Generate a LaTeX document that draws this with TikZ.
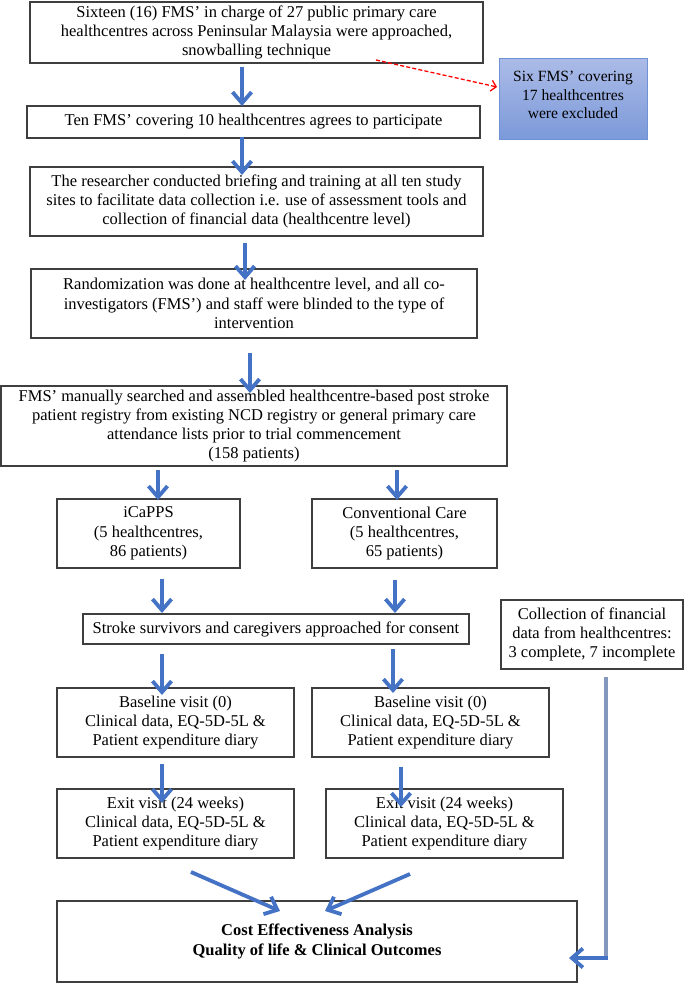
\documentclass[tikz,border=0pt]{standalone}
\usepackage{fontspec}
\setmainfont{Liberation Serif}
\usetikzlibrary{arrows.meta}
\definecolor{arrblue}{HTML}{4472C4}
\definecolor{boxgray}{HTML}{3F3F3F}
\definecolor{lineblue}{HTML}{8497BD}
\definecolor{extop}{HTML}{ABBBE7}
\definecolor{exbot}{HTML}{7B99D9}
\definecolor{exborder}{HTML}{6F91D6}
\newcommand\fs{\fontsize{16.5}{19.3}\selectfont}
\newcommand\fsx{\fontsize{15.6}{18.5}\selectfont}
\begin{document}
\begin{tikzpicture}[x=1pt,y=-1pt,
  box/.style={draw=boxgray, line width=1.1pt, align=center, inner sep=0pt, font=\fs},
  exbox/.style={draw=exborder, line width=1pt, top color=extop, bottom color=exbot},
  barrow/.style={draw=arrblue, line width=3.8pt, -{Straight Barb[length=11pt,width=19pt]}},
  redarrow/.style={draw=red, line width=1.3pt, dash pattern=on 4pt off 2.2pt, -{Straight Barb[length=5pt,width=11pt]}},
  grayline/.style={draw=lineblue, line width=3.6pt}]
\useasboundingbox (0,0) rectangle (685,984);
\fill[white] (0,0) rectangle (685,984);

% boxes
\node[box, minimum width=453, minimum height=61] (b1) at (256.5,32.5)
  {Sixteen (16) FMS’ in charge of 27 public primary care\\healthcentres across Peninsular Malaysia were approached,\\snowballing technique};
\node[box, minimum width=453, minimum height=32] (b2) at (253.5,122)
  {Ten FMS’ covering 10 healthcentres agrees to participate};
\node[exbox, minimum width=148, minimum height=81] (ex) at (573,99.5) {};
\node[align=center, inner sep=0pt, font=\fsx] (ext) at (573,95)
  {Six FMS’ covering\\17 healthcentres\\were excluded};
\node[box, minimum width=453, minimum height=69] (b3) at (256.5,201.5)
  {The researcher conducted briefing and training at all ten study\\sites to facilitate data collection i.e. use of assessment tools and\\collection of financial data (healthcentre level)};
\node[box, minimum width=446, minimum height=69] (b4) at (254,303.5)
  {Randomization was done at healthcentre level, and all co-\\investigators (FMS’) and staff were blinded to the type of\\intervention};
\node[box, minimum width=506, minimum height=80] (b5) at (254,426)
  {FMS’ manually searched and assembled healthcentre-based post stroke\\patient registry from existing NCD registry or general primary care\\attendance lists prior to trial commencement\\(158 patients)};
\node[box, minimum width=183, minimum height=69] (ic) at (148.5,533.5)
  {iCaPPS\\(5 healthcentres,\\86 patients)};
\node[box, minimum width=185, minimum height=69] (cc) at (404.5,533.5)
  {Conventional Care\\(5 healthcentres,\\65 patients)};
\node[box, minimum width=386, minimum height=30] (con) at (276,629)
  {Stroke survivors and caregivers approached for consent};
\node[box, minimum width=182, minimum height=69] (fin) at (592,634.5)
  {Collection of financial\\data from healthcentres:\\3 complete, 7 incomplete};
\node[box, minimum width=237, minimum height=69] (bl) at (175.5,722.5)
  {Baseline visit (0)\\Clinical data, EQ-5D-5L \&\\Patient expenditure diary};
\node[box, minimum width=237, minimum height=69] (br) at (430.5,722.5)
  {Baseline visit (0)\\Clinical data, EQ-5D-5L \&\\Patient expenditure diary};
\node[box, minimum width=237, minimum height=69] (el) at (175.5,823.5)
  {Exit visit (24 weeks)\\Clinical data, EQ-5D-5L \&\\Patient expenditure diary};
\node[box, minimum width=237, minimum height=69] (er) at (444.5,823.5)
  {Exit visit (24 weeks)\\Clinical data, EQ-5D-5L \&\\Patient expenditure diary};
\node[box, minimum width=520, minimum height=81, font=\fs\bfseries] (fb) at (317,941.5)
  {Cost Effectiveness Analysis\\Quality of life \& Clinical Outcomes};

% arrow end points
\coordinate (a1s) at (242,67);  \coordinate (a1e) at (242,106);
\coordinate (a2s) at (242,137); \coordinate (a2e) at (242,175);
\coordinate (a3s) at (245,243); \coordinate (a3e) at (245,280);
\coordinate (a4s) at (250,353); \coordinate (a4e) at (250,393);
\coordinate (a5s) at (158,470); \coordinate (a5e) at (158,500);
\coordinate (a6s) at (397,470); \coordinate (a6e) at (397,500);
\coordinate (a7s) at (162,579); \coordinate (a7e) at (162,613);
\coordinate (a8s) at (395,580); \coordinate (a8e) at (395,613);
\coordinate (a9s) at (162,654); \coordinate (a9e) at (162,695);
\coordinate (a10s) at (393,649); \coordinate (a10e) at (393,693);
\coordinate (a11s) at (162,764); \coordinate (a11e) at (162,803);
\coordinate (a12s) at (401,767); \coordinate (a12e) at (401,807);
\coordinate (a13s) at (191,872); \coordinate (a13e) at (280,911);
\coordinate (a14s) at (410,874); \coordinate (a14e) at (325,911);
\coordinate (rs) at (376,60); \coordinate (re) at (497,87);
\coordinate (g1) at (606,677); \coordinate (g2) at (606,958); \coordinate (g3) at (569,958);

\draw[redarrow] (rs) -- (re);
\foreach \i in {1,...,14} {\draw[barrow] (a\i s) -- (a\i e);}
\draw[grayline] (g1) -- (g2);
\draw[barrow] ([xshift=1.8pt]g2) -- (g3);
\end{tikzpicture}
\end{document}
